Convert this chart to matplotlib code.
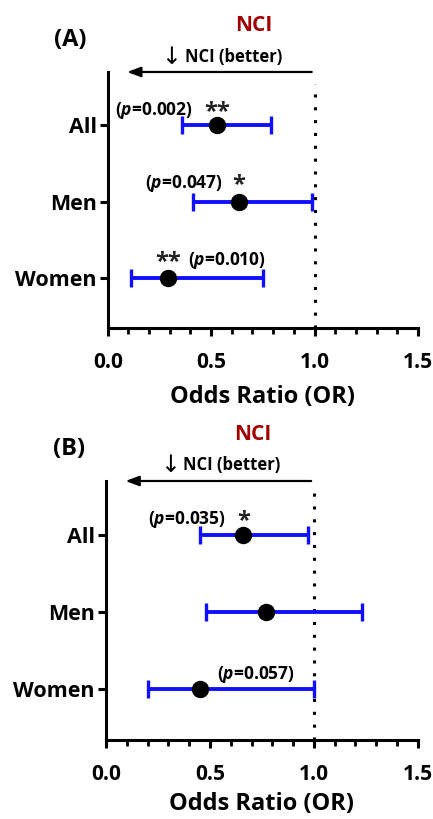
import matplotlib
matplotlib.use("Agg")
import matplotlib.pyplot as plt
from matplotlib.ticker import MultipleLocator

plt.rcParams['font.family'] = ['Open Sans', 'DejaVu Sans']
plt.rcParams['mathtext.fontset'] = 'custom'
plt.rcParams['mathtext.it'] = 'Open Sans:bold:italic'
plt.rcParams['mathtext.rm'] = 'Open Sans:bold'

categories = ["All", "Men", "Women"]

or_A = [0.53, 0.635, 0.29]
lo_A = [0.36, 0.41, 0.11]
hi_A = [0.79, 0.99, 0.75]
pvals_A = ["($p$=0.002)", "($p$=0.047)", "($p$=0.010)"]
stars_A = ["**", "*", "**"]

or_B = [0.66, 0.77, 0.45]
lo_B = [0.45, 0.48, 0.20]
hi_B = [0.97, 1.23, 1.00]
pvals_B = ["($p$=0.035)", "", "($p$=0.057)"]
stars_B = ["*", "", ""]

panel_labels = ["(A)", "(B)"]
xticks = [0.0, 0.5, 1.0, 1.5]
xlabel = "Odds Ratio (OR)"

fig = plt.figure(figsize=(4.33, 8.19), dpi=100)
axA = fig.add_axes([0.249, 0.5995, 0.716, 0.3126])
axB = fig.add_axes([0.245, 0.0965, 0.720, 0.3162])

# p-text left x (data) and y offset from category
p_pos_A = [(0.034, -0.20), (0.18, -0.24), (0.387, -0.23)]
p_pos_B = [(0.20, -0.20), None, (0.535, -0.19)]

def draw(ax, orv, lo, hi, pvals, stars, p_pos, label, lpad):
    y = list(range(1, len(categories) + 1))
    err = [[o - l for o, l in zip(orv, lo)], [h - o for o, h in zip(orv, hi)]]
    ax.errorbar(orv, y, xerr=err, fmt='none', ecolor='#1010ff', elinewidth=2.8,
                capsize=6.5, capthick=2.4, zorder=2)
    ax.plot(orv, y, 'o', color='black', markersize=11.5, zorder=3)
    ax.set_ylim(3.66, 0.30)
    ax.set_xlim(0, 1.5)
    ax.axvline(1.0, ymin=0, ymax=(3.66 - 0.46) / 3.36, color='black',
               linestyle=(0, (1, 3.2)), linewidth=2.2, zorder=1)
    ax.annotate("", xy=(0.08, 0.30), xytext=(1.0, 0.30),
                arrowprops=dict(arrowstyle='-|>,head_length=0.8,head_width=0.3',
                                color='black', lw=1.6), annotation_clip=False)
    ax.set_yticks(y)
    ax.set_yticklabels(categories, fontsize=15.5, fontweight='bold')
    ax.set_xticks(xticks)
    ax.set_xticklabels([f"{t:.1f}" for t in xticks], fontsize=15, fontweight='bold')
    ax.xaxis.set_minor_locator(MultipleLocator(0.1))
    ax.tick_params(axis='both', which='major', width=2.2, length=6, pad=2)
    ax.tick_params(axis='x', which='minor', width=2.0, length=4)
    ax.tick_params(axis='x', which='major', pad=11)
    ax.set_xlabel(xlabel, fontsize=17, fontweight='bold', labelpad=lpad)
    for s in ['top', 'right']:
        ax.spines[s].set_visible(False)
    for s in ['left', 'bottom']:
        ax.spines[s].set_linewidth(2.2)
    for ptxt, st, pos, yy, o in zip(pvals, stars, p_pos, y, orv):
        if ptxt and pos:
            ax.text(pos[0], yy + pos[1], ptxt, fontsize=12.5, fontweight='bold',
                    ha='left', va='center')
        if st and pos:
            ax.text(o, yy + pos[1] + 0.02, st, fontsize=17, fontweight='bold',
                    ha='center', va='center', color='#222222')
    # header texts
    ax.text(-0.12, 1.125, label, transform=ax.transAxes, fontsize=17,
            fontweight='bold', ha='center', va='center')
    ax.text(0.47, 1.18, "NCI", transform=ax.transAxes, fontsize=15,
            fontweight='bold', color='#a00000', ha='center', va='center')
    ax.text(0.205, 1.06, "\u2193", transform=ax.transAxes, fontsize=17,
            ha='center', va='center', family=['DejaVu Sans'])
    ax.text(0.248, 1.06, "NCI (better)", transform=ax.transAxes, fontsize=12,
            fontweight='bold', ha='left', va='center')

draw(axA, or_A, lo_A, hi_A, pvals_A, stars_A, p_pos_A, panel_labels[0], 9)
draw(axB, or_B, lo_B, hi_B, pvals_B, stars_B, p_pos_B, panel_labels[1], 5)

fig.savefig("out.png", dpi=100)
